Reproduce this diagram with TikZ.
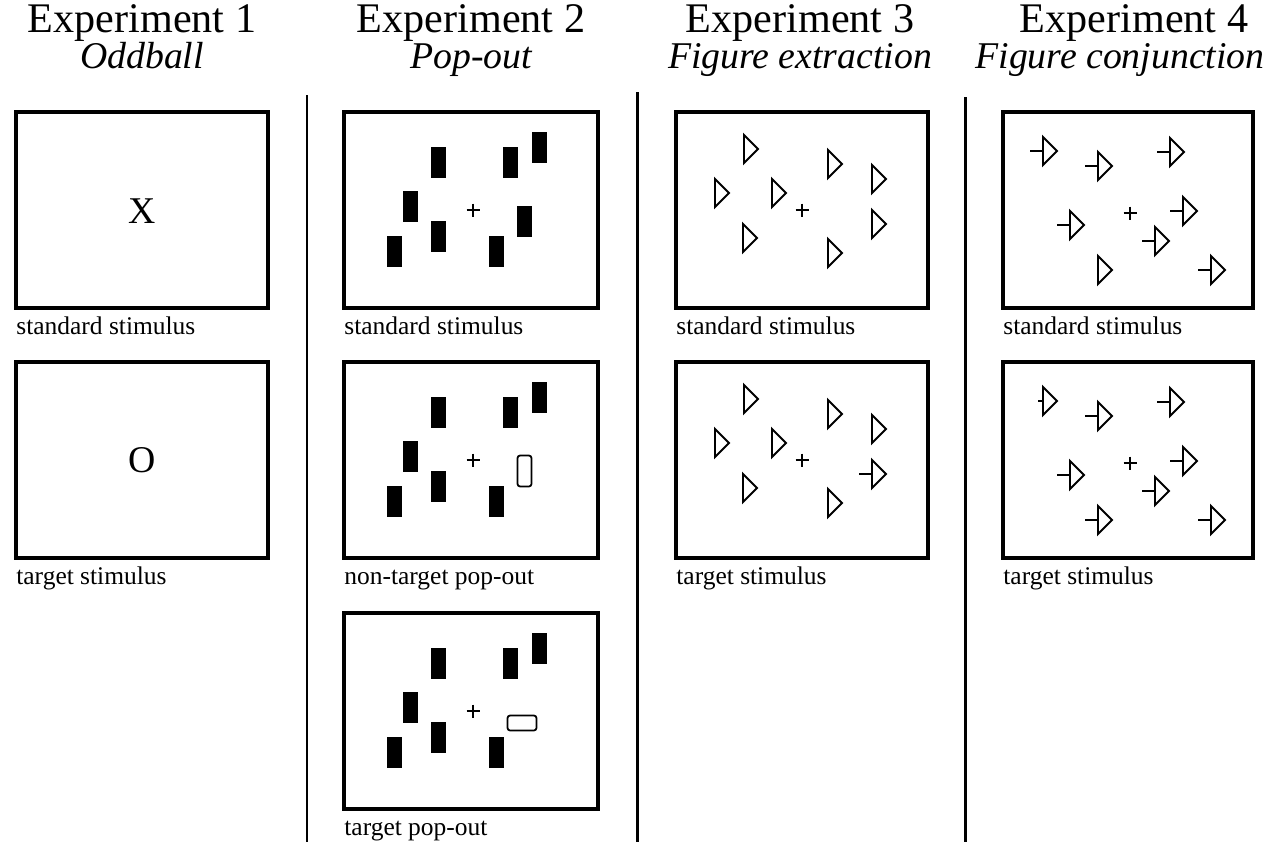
\documentclass[tikz,border=0pt]{standalone}
\usepackage{fontspec}
\setmainfont{Liberation Serif}
\begin{document}
\begin{tikzpicture}[x=0.02cm,y=-0.02cm,
    panel/.style={line width=2.4pt},
    sep/.style={line width=1.7pt},
    bar/.style={fill=black},
    hollow/.style={line width=1pt,rounded corners=1.5},
    tri/.style={line width=1.1pt},
    fix/.style={line width=1.4pt},
    head/.style={anchor=base,inner sep=0pt,text depth=0pt,font=\fontsize{24}{28}\selectfont},
    cond/.style={anchor=base,inner sep=0pt,font=\fontsize{21.5}{24}\selectfont\itshape},
    caption/.style={anchor=base west,inner sep=0pt,font=\fontsize{14.5}{17}\selectfont},
    letter/.style={inner sep=0pt,font=\fontsize{21.5}{24}\selectfont}]
  \useasboundingbox (0,0) rectangle (1267,842);
  % column heads
  \node[head] (h1) at (142,32) {Experiment 1};
  \node[cond] (c1) at (142,68) {Oddball};
  \node[head] (h2) at (471,32) {Experiment 2};
  \node[cond] (c2) at (471,68) {Pop-out};
  \node[head] (h3) at (800,32) {Experiment 3};
  \node[cond] (c3) at (800,68) {Figure extraction};
  \node[head] (h4) at (1134,32) {Experiment 4};
  \node[cond] (c4) at (1120,68) {Figure conjunction};
  \draw[sep] (307,95) -- (307,842);
  \draw[sep] (637,92) -- (637,842);
  \draw[sep] (965,97) -- (965,842);
  % experiment 1
  \draw[panel] (16,112) rectangle (268,308);
  \node[letter] (std1) at (142,211) {X};
  \node[caption] (cap11) at (16,334) {standard stimulus};
  \draw[panel] (16,362) rectangle (268,558);
  \node[letter] (tgt1) at (142,460) {O};
  \node[caption] (cap12) at (16,584) {target stimulus};
  % experiment 2
  \foreach \top/\txt [count=\i] in {112/standard stimulus,362/non-target pop-out,613/target pop-out}{
    \draw[panel] (344,\top) rectangle ++(254,196);
    \node[caption] (cap2\i) at (344,\top+222) {\txt};
    \begin{scope}[shift={(471,\top+98)}]
      \foreach \x/\y in {-33/-48,39/-48,68/-63,-61/-4,-33/26,-77/41,25/41}
        \fill[bar] (\x-7.5,\y-15.5) rectangle ++(15,31);
      \draw[fix] (2,0) +(-6.5,0) -- +(6.5,0) (2,0) +(0,-6.5) -- +(0,6.5);
    \end{scope}
  }
  \fill[bar] (524.5-7.5,210+11-15.5) rectangle ++(15,31);
  \draw[hollow] (524.5-7,460+11-15.5) rectangle ++(14,31);
  \draw[hollow] (522-14.5,711+12-7.5) rectangle ++(29,15);
  % experiment 3
  \foreach \top/\txt [count=\i] in {112/standard stimulus,362/target stimulus}{
    \draw[panel] (676,\top) rectangle ++(252,196);
    \node[caption] (cap3\i) at (676,\top+222) {\txt};
    \begin{scope}[shift={(802,\top+98)}]
      \foreach \x/\y in {-58/-61,-87/-17,-30/-17,26/-46,70/-31,70/14,-59/28,26/43}
        \draw[tri] (\x,\y-14) -- ++(14,14) -- ++(-14,14) -- cycle;
      \draw[fix] (0,0) +(-6.5,0) -- +(6.5,0) (0,0) +(0,-6.5) -- +(0,6.5);
    \end{scope}
  }
  \draw[tri] (802+70-13,460+14) -- ++(13,0);
  % experiment 4
  \foreach \top/\txt [count=\i] in {112/standard stimulus,362/target stimulus}{
    \draw[panel] (1003,\top) rectangle ++(250,196);
    \node[caption] (cap4\i) at (1003,\top+222) {\txt};
    \begin{scope}[shift={(1128,\top+98)}]
      \foreach \x/\y in {-85/-59,-30/-44,42/-58,-58/15,55/1,27/31,-30/60,83/60}
        \draw[tri] (\x,\y-14) -- ++(14,14) -- ++(-14,14) -- cycle;
      \foreach \x/\y in {-30/-44,42/-58,-58/15,55/1,27/31,83/60}
        \draw[tri] (\x-13,\y) -- (\x,\y);
      \draw[fix] (2,3) +(-6.5,0) -- +(6.5,0) (2,3) +(0,-6.5) -- +(0,6.5);
    \end{scope}
  }
  \draw[tri] (1128-85-13,210-59) -- ++(13,0);
  \draw[tri] (1128-30-13,460+60) -- ++(13,0);
  \draw[tri] (1128-85-5,460-59) -- ++(5,0);
\end{tikzpicture}
\end{document}
